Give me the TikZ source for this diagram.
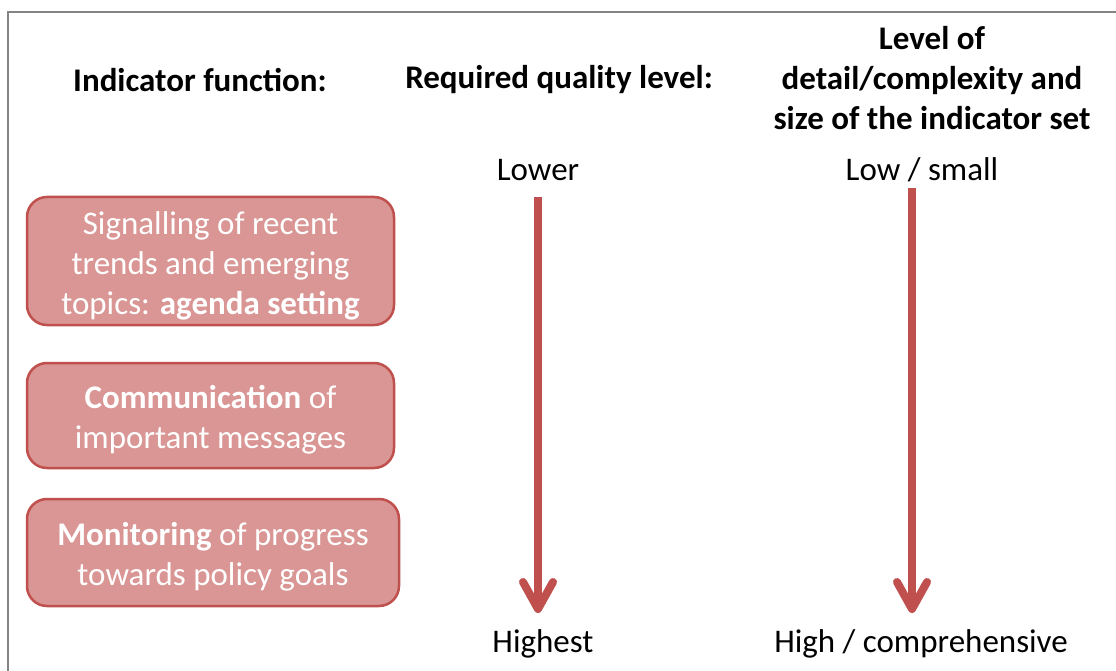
\documentclass[tikz,border=0pt]{standalone}
\usepackage{fontspec}
\setmainfont{Carlito}
\usepackage{xcolor}
\usepackage{tikz}
\usetikzlibrary{positioning, arrows.meta}
\definecolor{boxFill}{HTML}{D99694}
\definecolor{boxEdge}{HTML}{C0504D}
\definecolor{frameGray}{HTML}{858585}
\newcommand{\topStrut}{\rule{0pt}{32pt}}
\tikzset{
  fnBox/.style={draw=boxEdge, fill=boxFill, line width=2.5pt, rounded corners=20pt,
    text=white, align=center, inner sep=0pt, font=\fontsize{33}{40}\selectfont},
  colHead/.style={align=center, font=\fontsize{33}{40}\selectfont\bfseries},
  endLabel/.style={anchor=base, font=\fontsize{33}{40}\selectfont},
  downArrow/.style={line width=8pt, boxEdge, -{Straight Barb[length=27pt,width=30pt,round]}}
}

\begin{document}
\begin{tikzpicture}[x=1pt,y=-1pt]
      \useasboundingbox (0,0) rectangle (1116,671);
      \draw[frameGray, line width=2.5pt] (8,690) -- (8,12) -- (1130,12);
      \node[colHead] (fnHead) at (200,80) {Indicator function:};
      \node[colHead] (qualHead) at (559,80) {Required quality level:};
      \node[colHead] (sizeHead) at (932,78) {Level of\\ detail/complexity and\\ size of the indicator set};
      \node[fnBox, minimum width=367pt, minimum height=128pt] (signal) at (210.5,261)
        {\topStrut Signalling of recent\\ trends and emerging\\ topics: \textbf{agenda setting}};
      \node[fnBox, minimum width=367pt, minimum height=105pt] (comm) at (210.5,415.5)
        {\topStrut\textbf{Communication} of\\ important messages};
      \node[fnBox, minimum width=372pt, minimum height=107pt] (monit) at (213,552.5)
        {\topStrut\textbf{Monitoring} of progress\\ towards policy goals};
      \node[endLabel] (lower) at (538,181) {Lower};
      \node[endLabel] (highest) at (543,652) {Highest};
      \node[endLabel] (lowSmall) at (922,181) {Low / small};
      \node[endLabel] (highComp) at (921,652) {High / comprehensive};
      \foreach \n/\x/\y in {q/538/197, s/912/188} {
        \coordinate (\n Top) at (\x,\y);
        \coordinate (\n End) at (\x,613);
        \draw[downArrow] (\n Top) -- (\n End);
      }
    \end{tikzpicture}
\end{document}
